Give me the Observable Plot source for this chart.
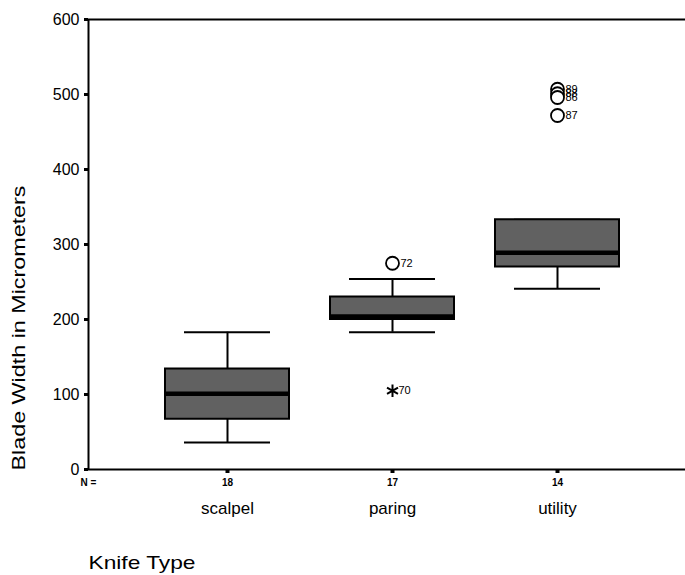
<!DOCTYPE html>
<html>
<head>
<meta charset="utf-8">
<script src="https://cdn.jsdelivr.net/npm/d3@7"></script>
<script src="https://cdn.jsdelivr.net/npm/@observablehq/plot@0.6"></script>
<style>
  html, body { margin: 0; padding: 0; background: #fff; }
  svg { display: block; }
</style>
</head>
<body>
<div id="chart"></div>
<script>
// Knife types and sample sizes
const categories = ["scalpel", "paring", "utility"];
const counts = [18, 17, 14];

// Box statistics (micrometers)
const whiskerLow = [36, 183, 241];
const q1 = [67, 200, 270];
const median = [101, 204, 289];
const q3 = [134, 230, 333];
const whiskerHigh = [183, 254, 333];

// Outliers (circles) and extremes (stars)
const outlierCat = ["paring", "utility", "utility", "utility", "utility"];
const outlierVal = [275, 507, 501, 496, 472];
const outlierLabel = ["72", "89", "88", "86", "87"];
const extremeCat = ["paring"];
const extremeVal = [105];
const extremeLabel = ["70"];

const yTicks = [0, 100, 200, 300, 400, 500, 600];

const boxes = categories.map((c, i) => ({
  cat: c, n: counts[i], lo: whiskerLow[i], q1: q1[i], med: median[i], q3: q3[i], hi: whiskerHigh[i]
}));
const outliers = outlierCat.map((c, i) => ({cat: c, v: outlierVal[i], label: outlierLabel[i]}));
const extremes = extremeCat.map((c, i) => ({cat: c, v: extremeVal[i], label: extremeLabel[i]}));

const font = "Liberation Sans, Arial, Helvetica, sans-serif";

const chart = Plot.plot({
  width: 685,
  height: 575,
  marginTop: 19,
  marginBottom: 106,
  marginLeft: 88,
  marginRight: -3,
  style: {fontFamily: font, background: "#fff", color: "#000"},
  x: {type: "band", domain: categories, range: [143.25, 639.75], paddingInner: 0.25, paddingOuter: 0.125, axis: null},
  y: {domain: [0, 600], axis: null},
  marks: [
    // whiskers
    Plot.ruleX(boxes, {x: "cat", y1: "lo", y2: "hi", stroke: "#000", strokeWidth: 2}),
    Plot.tickY(boxes, {x: "cat", y: "lo", stroke: "#000", strokeWidth: 2, insetLeft: 19, insetRight: 19}),
    Plot.tickY(boxes, {x: "cat", y: "hi", stroke: "#000", strokeWidth: 2, insetLeft: 19, insetRight: 19}),
    // boxes
    Plot.barY(boxes, {x: "cat", y1: "q1", y2: "q3", fill: "#616161", stroke: "#000", strokeWidth: 2}),
    // medians
    Plot.tickY(boxes, {x: "cat", y: "med", stroke: "#000", strokeWidth: 4.5}),
    // outliers
    Plot.dot(outliers, {x: "cat", y: "v", r: 6.5, stroke: "#000", strokeWidth: 1.8, fill: "#fff"}),
    Plot.text(outliers, {x: "cat", y: "v", text: "label", dx: 8, textAnchor: "start", fontSize: 11, fill: "#000"}),
    Plot.dot(extremes, {x: "cat", y: "v", r: 6, symbol: "asterisk", stroke: "#000", strokeWidth: 2}),
    Plot.text(extremes, {x: "cat", y: "v", text: "label", dx: 6, textAnchor: "start", fontSize: 11, fill: "#000"}),
    // frame: top, left, bottom (right side falls outside the canvas)
    Plot.frame({stroke: "#000", strokeWidth: 2}),
    Plot.axisY({ticks: yTicks, tickSize: 4, strokeWidth: 3, label: null, tickPadding: 5, fontSize: 16, tickFormat: d => String(d)}),
    // x ticks (small squares) and count row
    Plot.axisX({tickSize: 4, strokeWidth: 4, tickFormat: () => "", label: null}),
    Plot.text(["N ="], {frameAnchor: "bottom-left", dy: 16, textAnchor: "middle", fontSize: 10, fontWeight: "bold", fill: "#000"}),
    Plot.text(boxes, {x: "cat", frameAnchor: "bottom", dy: 16, text: d => String(d.n), fontSize: 10, fontWeight: "bold", fill: "#000"}),
    Plot.text(boxes, {x: "cat", frameAnchor: "bottom", dy: 44, text: "cat", fontSize: 17, fill: "#000"}),
    Plot.text(["Knife Type"], {frameAnchor: "bottom-left", dy: 99, textAnchor: "start", fontSize: 19, fill: "#000"}),
    Plot.text(["Blade Width in Micrometers"], {frameAnchor: "bottom-left", dx: -64, dy: 1, textAnchor: "start", rotate: -90, fontSize: 19, fill: "#000"})
  ]
});
document.getElementById("chart").appendChild(chart);

// stretch the two axis titles horizontally, as in the reference figure
d3.select(chart).selectAll("text").each(function () {
  const t = this.textContent;
  if (t === "Blade Width in Micrometers") {
    this.setAttribute("textLength", 285);
    this.setAttribute("lengthAdjust", "spacingAndGlyphs");
  } else if (t === "Knife Type") {
    this.setAttribute("textLength", 107);
    this.setAttribute("lengthAdjust", "spacingAndGlyphs");
  }
});
</script>
</body>
</html>
